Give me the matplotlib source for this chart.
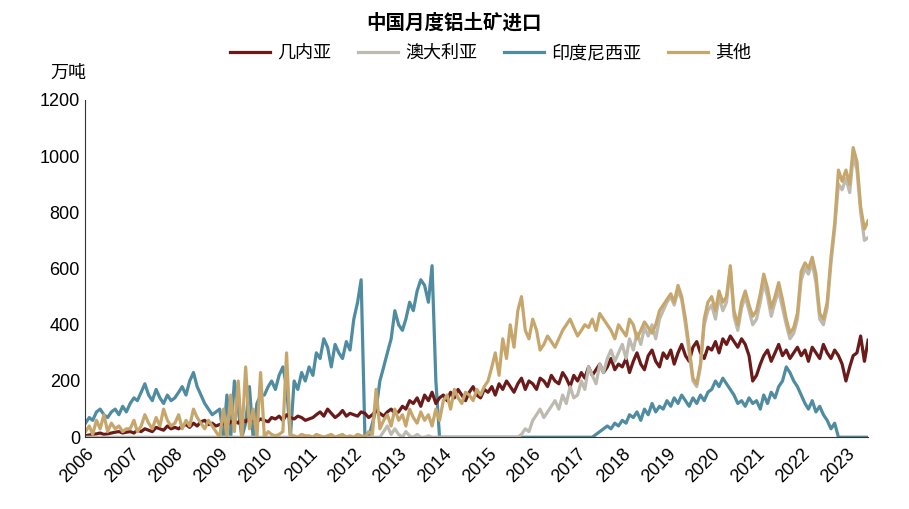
import matplotlib
matplotlib.use("Agg")
import matplotlib.pyplot as plt
from matplotlib import font_manager as fm
import pandas as pd

cjk = None
for f in fm.fontManager.ttflist:
    if "CJK" in f.name and ("SC" in f.name or cjk is None):
        cjk = f.name
for p in fm.findSystemFonts():
    if cjk is None and "CJK" in p:
        fm.fontManager.addfont(p)
        cjk = fm.FontProperties(fname=p).get_name()
plt.rcParams["font.family"] = ["Liberation Sans"] + ([cjk] if cjk else []) + ["DejaVu Sans"]

series_names = ["几内亚", "澳大利亚", "印度尼西亚", "其他"]
colors = ["#6B1A1A", "#BDBAB0", "#4F8CA1", "#C7A66C"]

guinea = [
 [5,8,10,12,15,10,12,15,18,20,15,18],
 [20,15,25,20,30,25,20,35,30,25,40,30],
 [35,30,40,45,35,50,40,55,60,45,50,40],
 [45,50,40,55,60,50,65,55,70,60,55,65],
 [60,55,70,65,75,60,80,70,65,75,70,60],
 [65,70,80,90,75,100,85,70,80,95,75,85],
 [80,75,90,85,70,80,95,85,75,90,100,85],
 [90,110,100,130,120,140,110,150,130,160,120,140],
 [150,130,160,140,170,150,130,160,180,150,140,170],
 [160,180,150,190,170,200,180,160,190,210,170,200],
 [190,170,210,200,180,220,200,190,230,210,180,220],
 [200,230,210,250,220,240,260,230,250,280,240,260],
 [250,280,230,270,300,260,240,290,310,270,250,300],
 [280,310,260,300,330,290,270,320,340,300,280,320],
 [310,340,300,350,330,360,340,320,350,330,290,200],
 [220,260,290,310,270,300,330,290,310,280,300,320],
 [290,310,270,320,300,280,330,300,280,310,290,260],
 [200,250,290,300,360,270,345],
]
australia = [[0]*12]*6 + [
 [0,0,0,0,0,0,0,0,20,40,10,30],
 [10,0,20,5,0,10,0,0,5,0,0,0],
 [0]*12,
 [0,0,0,0,0,0,0,0,0,10,30,20],
 [60,80,100,70,90,110,130,100,150,120,180,140],
 [150,200,170,250,220,190,260,230,280,310,270,300],
 [330,280,350,310,370,330,390,360,400,350,420,450],
 [480,500,470,520,490,400,300,200,180,250,400,450],
 [470,420,500,450,480,600,430,380,460,500,450,400],
 [420,480,550,500,430,480,520,460,400,350,370,420],
 [560,600,580,620,550,420,400,460,620,740,900,880],
 [920,870,1000,950,800,700,710],
]
indonesia = [
 [50,70,60,90,100,80,70,90,100,80,110,90],
 [120,140,130,160,190,150,130,170,140,120,150,130],
 [140,160,180,150,200,230,180,150,120,100,80,90],
 [100,0,150,0,200,100,0,50,180,0,120,150],
 [150,180,200,170,220,250,180,0,200,170,230,200],
 [250,220,300,280,350,320,250,330,300,280,340,310],
 [420,480,560,0,0,50,100,200,250,300,350,450],
 [400,380,420,480,450,520,560,540,480,610,200,0],
 [0]*12, [0]*12, [0]*12,
 [0,0,0,0,0,10,20,30,40,30,50,40],
 [60,50,80,70,90,60,100,80,120,90,110,100],
 [130,110,140,120,150,130,110,140,120,150,130,160],
 [170,200,180,210,190,170,150,120,130,110,140,120],
 [130,100,150,120,160,140,180,200,250,230,200,180],
 [150,120,100,130,90,110,80,60,30,50,0,0],
 [0,0,0,0,0,0,0],
]
others = [
 [20,40,10,60,30,80,20,50,30,40,20,30],
 [30,60,20,40,80,50,30,70,40,100,60,40],
 [50,80,30,60,40,100,70,50,30,60,40,20],
 [0,100,0,150,20,200,0,250,30,100,0,230],
 [0,20,10,5,10,20,300,10,5,0,10,5],
 [5,0,10,5,0,5,10,0,5,10,0,5],
 [0,10,5,0,20,10,170,30,60,80,40,100],
 [60,80,40,100,70,50,90,60,80,40,100,60],
 [130,150,100,170,140,120,160,150,130,170,150,180],
 [200,250,300,220,350,280,400,320,450,500,380,350],
 [420,380,310,330,360,340,320,350,380,400,420,390],
 [360,380,400,390,420,380,440,420,400,380,350,400],
 [380,360,420,400,350,380,410,390,370,400,450,470],
 [490,510,480,540,500,420,320,210,190,260,420,480],
 [500,450,520,480,500,610,450,400,480,520,470,430],
 [450,510,580,530,460,500,550,490,420,370,390,440],
 [590,620,600,640,580,440,420,480,640,760,950,910],
 [950,900,1030,980,820,740,770],
]
years = [str(y) for y in range(2006, 2024)]

def flat(v):
    return [x for row in v for x in row]

data = [flat(guinea), flat(australia), flat(indonesia), flat(others)]
dates = pd.date_range("2006-01-01", periods=len(data[0]), freq="MS")

fig = plt.figure(figsize=(9.09, 5.09), dpi=100)
ax = fig.add_axes([0.094, 0.141, 0.861, 0.663])
lines = {}
for i in [2, 0, 1, 3]:
    l, = ax.plot(dates, data[i], color=colors[i], lw=2.3, label=series_names[i])
    lines[i] = l
ax.set_ylim(0, 1200)
ax.set_yticks(range(0, 1201, 200))
ax.set_xlim(pd.Timestamp("2006-01-01"), dates[-1])
ax.set_xticks([pd.Timestamp(f"{y}-01-01") for y in years])
ax.set_xticklabels(years, rotation=45, ha="right", rotation_mode="anchor")
ax.tick_params(labelsize=13, length=0, pad=4)
ax.tick_params(axis="x", pad=6)
for s in ["top", "right"]:
    ax.spines[s].set_visible(False)
for s in ["left", "bottom"]:
    ax.spines[s].set_color("#333333")
fig.text(0.5, 0.955, "中国月度铝土矿进口", ha="center", va="center", fontsize=14, fontweight="bold")
fig.text(0.055, 0.855, "万吨", fontsize=13, va="center")
fig.legend([lines[i] for i in range(4)], series_names, loc="center", bbox_to_anchor=(0.54, 0.895),
           ncol=4, frameon=False, fontsize=13, handlelength=2.2, columnspacing=1.5, handletextpad=0.4)
fig.savefig("out.png", dpi=100)
